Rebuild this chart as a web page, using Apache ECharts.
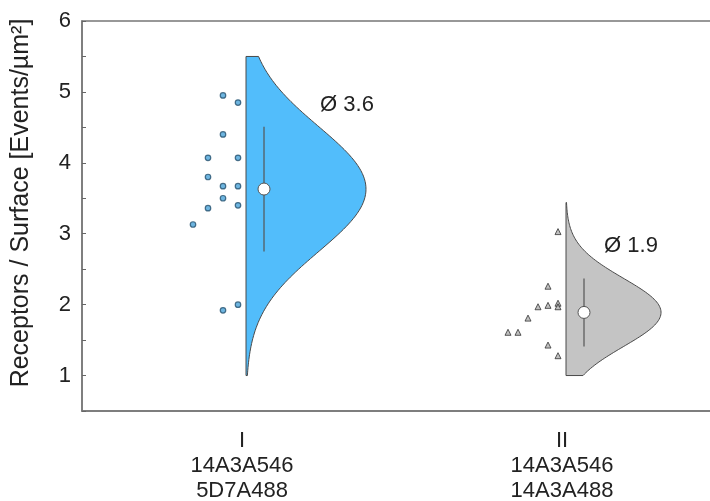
<!DOCTYPE html>
<html>
<head>
<meta charset="utf-8">
<script src="https://cdn.jsdelivr.net/npm/echarts@6/dist/echarts.min.js"></script>
<style>
  html, body { margin: 0; padding: 0; background: #fff; }
  #main { width: 710px; height: 501px; }
</style>
</head>
<body>
<div id="main"></div>
<script>
// x categories
const categories = ['I\n14A3A546\n5D7A488', 'II\n14A3A546\n14A3A488'];
const groupI = [4.95, 4.85, 4.40, 4.07, 4.07, 3.80, 3.67, 3.67, 3.50, 3.40, 3.36, 3.13, 1.92, 2.00];
const groupII = [3.03, 2.26, 1.97, 1.99, 2.02, 1.97, 1.81, 1.61, 1.61, 1.43, 1.28];
// jitter column of every point (0 = right next to the violin)
const jitterI = [1, 0, 1, 2, 0, 2, 1, 0, 1, 0, 2, 3, 1, 0];
const jitterII = [0, 1, 2, 1, 0, 0, 3, 5, 4, 1, 0];
// mean and standard deviation of each group
const means = [3.63, 1.89];
const sds = [0.88, 0.48];
// span of the distribution curve
const curveLo = [1.0, 1.0];
const curveHi = [5.5, 3.44];
// labelled y ticks
const yTicks = [1, 2, 3, 4, 5, 6];
const yTitle = 'Receptors / Surface [Events/µm²]';

// looks
const violinColors = ['#52bdfb', '#c4c4c4'];
const violinWidth = [0.375, 0.297]; // peak width, share of the category band
const jitterStep = [15, 10];
const labelAt = [{ y: 4.82, dx: 105 }, { y: 2.83, dx: 69 }];
const font = 'Liberation Sans';

const chart = echarts.init(document.getElementById('main'));

chart.setOption({
  animation: false,
  textStyle: { fontFamily: font },
  grid: {
    left: 82, top: 21, width: 640, bottom: 90,
    outerBoundsMode: 'none',
    containLabel: false,
    show: true, borderColor: '#777', borderWidth: 1.5
  },
  graphic: [
    {
      type: 'text',
      x: 21, y: 203,
      rotation: Math.PI / 2,
      style: {
        text: yTitle, fontFamily: font, fontSize: 25, fill: '#222',
        align: 'center', verticalAlign: 'middle'
      }
    }
  ],
  xAxis: {
    type: 'category',
    data: categories,
    axisLine: { lineStyle: { color: '#777', width: 1.5 } },
    axisTick: { alignWithLabel: true, length: 8, lineStyle: { color: '#666', width: 1.5 } },
    axisLabel: { fontSize: 22, lineHeight: 25, color: '#222', margin: 17 },
    splitLine: { show: false }
  },
  yAxis: {
    type: 'value',
    min: 0.5, max: 6, interval: 0.5,
    axisLine: { show: true, lineStyle: { color: '#777', width: 1.5 } },
    axisTick: { show: true, inside: true, length: 4, lineStyle: { color: '#666' } },
    axisLabel: {
      fontSize: 22, color: '#222', margin: 11,
      formatter: v => (yTicks.includes(v) ? String(v) : '')
    },
    splitLine: { show: false }
  },
  series: [
    {
      type: 'custom',
      data: means.map((m, i) => [i, m]),
      encode: { x: 0, y: 1 },
      z: 2,
      renderItem(params, api) {
        const i = params.dataIndex;
        const m = means[i], sd = sds[i];
        const band = api.size([1, 0])[0];
        const maxW = violinWidth[i] * band;
        const x0 = api.coord([i, m])[0] + 4;
        const lo = curveLo[i], hi = curveHi[i];
        const pts = [[x0, api.coord([i, lo])[1]]];
        const n = 120;
        for (let k = 0; k <= n; k++) {
          const y = lo + (hi - lo) * k / n;
          const w = maxW * Math.exp(-((y - m) * (y - m)) / (2 * sd * sd));
          pts.push([x0 + w, api.coord([i, y])[1]]);
        }
        pts.push([x0, api.coord([i, hi])[1]]);
        const mx = x0 + 18;
        const my = api.coord([i, m])[1];
        const lab = api.coord([i, labelAt[i].y]);
        return {
          type: 'group',
          children: [
            {
              type: 'polygon',
              shape: { points: pts },
              style: { fill: violinColors[i], stroke: '#4a4a4a', lineWidth: 1 }
            },
            {
              type: 'line',
              shape: { x1: mx, y1: api.coord([i, m + sd])[1], x2: mx, y2: api.coord([i, m - sd])[1] },
              style: { stroke: '#555', lineWidth: 1.2 }
            },
            {
              type: 'circle',
              shape: { cx: mx, cy: my, r: 6 },
              style: { fill: '#fff', stroke: '#555', lineWidth: 1 }
            },
            {
              type: 'text',
              x: lab[0] + labelAt[i].dx,
              y: lab[1],
              style: {
                text: 'Ø ' + m.toFixed(1),
                fontFamily: font, fontSize: 22, fill: '#222',
                align: 'center', verticalAlign: 'middle'
              }
            }
          ]
        };
      }
    },
    {
      type: 'scatter',
      z: 3,
      symbol: 'circle',
      symbolSize: 5.5,
      itemStyle: { color: '#4aa3d8', borderColor: '#24506e', borderWidth: 1.2 },
      data: groupI.map((v, k) => ({ value: [0, v], symbolOffset: [-(4 + jitterI[k] * jitterStep[0]), 0] }))
    },
    {
      type: 'scatter',
      z: 3,
      symbol: 'triangle',
      symbolSize: 6,
      itemStyle: { color: '#b0b0b0', borderColor: '#333', borderWidth: 1 },
      data: groupII.map((v, k) => ({ value: [1, v], symbolOffset: [-(4 + jitterII[k] * jitterStep[1]), 0] }))
    }
  ]
});
</script>
</body>
</html>
